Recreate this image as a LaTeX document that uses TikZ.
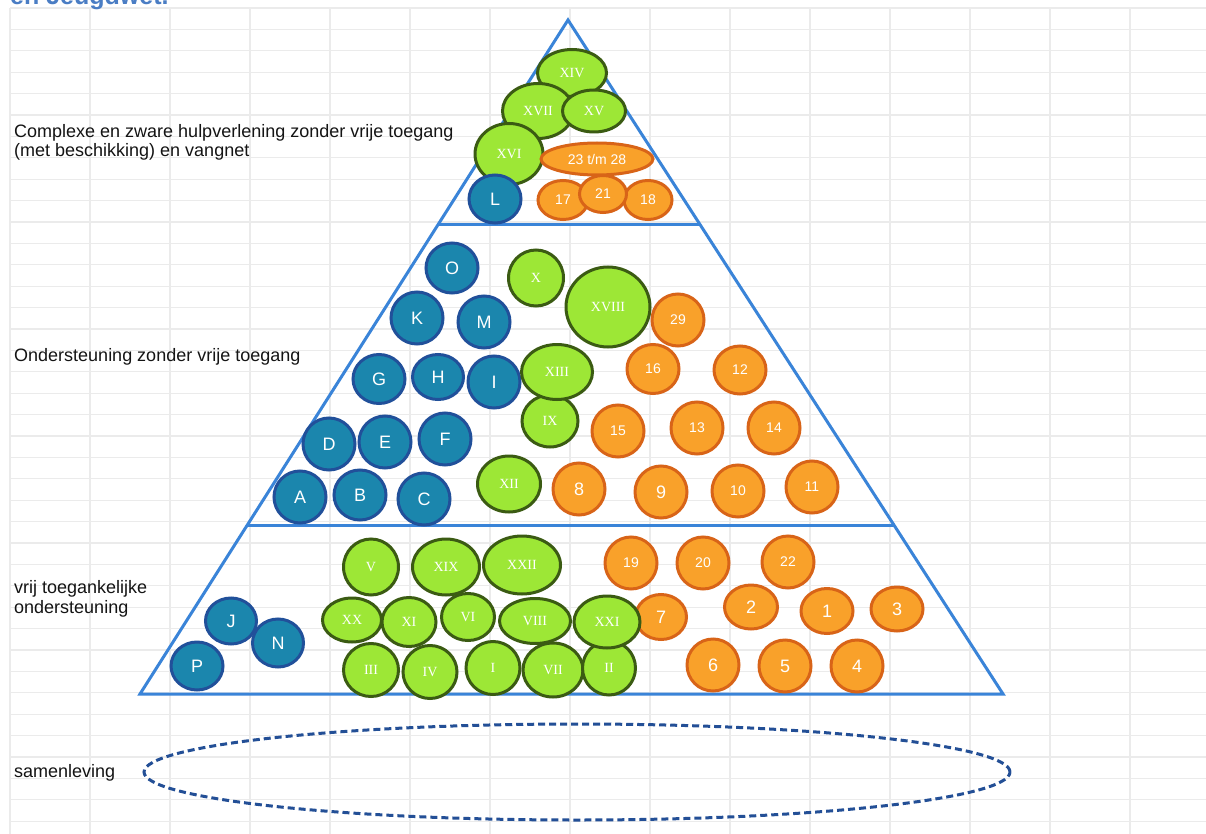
\documentclass[tikz,border=0pt]{standalone}
\usepackage{fontspec}
\setmainfont{Liberation Serif}
\setsansfont{Liberation Sans}
\usetikzlibrary{shapes.geometric}
\definecolor{gridc}{HTML}{EBEBEB}
\definecolor{pyr}{HTML}{3A84D8}
\definecolor{titleblue}{HTML}{4A7DC4}
\definecolor{bfill}{HTML}{1B86AD}
\definecolor{bline}{HTML}{21509A}
\definecolor{gfill}{HTML}{9DE736}
\definecolor{gline}{HTML}{3B5B13}
\definecolor{ofill}{HTML}{F9A12A}
\definecolor{oline}{HTML}{D86418}
\definecolor{dashc}{HTML}{234F96}
\definecolor{txt}{HTML}{141414}
\tikzset{
  gridline/.style={draw=gridc, line width=1.3pt},
  pyrline/.style={draw=pyr, line width=3pt, line join=miter},
  bub/.style={ellipse, inner sep=0pt, outer sep=0pt, line width=3pt, text=white},
  blu/.style={bub, fill=bfill, draw=bline, font=\fontsize{18}{18}\selectfont\sffamily},
  grn/.style={bub, fill=gfill, draw=gline, font=\fontsize{14}{14}\selectfont\rmfamily},
  org/.style={bub, fill=ofill, draw=oline, font=\fontsize{14}{14}\selectfont\sffamily},
  orgb/.style={org, font=\fontsize{18}{18}\selectfont\sffamily},
  sz/.style 2 args={minimum width=#1pt, minimum height=#2pt},
  lab/.style={anchor=base west, inner sep=0pt, text=txt, font=\fontsize{18}{18}\selectfont\sffamily}
}
\begin{document}
\begin{tikzpicture}[x=1pt,y=-1pt]
\useasboundingbox (0,0) rectangle (1206,834);
\clip (0,0) rectangle (1206,834);
\fill[white] (0,0) rectangle (1206,834);
% grid
\foreach \yy in {8,29.4,...,834} \draw[gridline] (10,\yy) -- (1206,\yy);
\foreach \xx in {10,90,...,1210} \draw[gridline] (\xx,8) -- (\xx,834);
% title (cut off at the top, as in the reference)
\node[anchor=base west, inner sep=0pt, text=titleblue, font=\fontsize{25}{25}\selectfont\sffamily\bfseries] (title) at (10,4.5) {en Jeugdwet.};
% pyramid
\coordinate (apex) at (568,20);
\coordinate (bl) at (140,694);
\coordinate (br) at (1003,694);
\coordinate (l1) at (437,225);
\coordinate (r1) at (700,225);
\coordinate (l2) at (246,525);
\coordinate (r2) at (894,525);
\draw[pyrline] (apex) -- (bl) -- (br) -- cycle;
\draw[pyrline] (l1) -- (r1);
\draw[pyrline] (l2) -- (r2);
% left labels
\node[lab] (t1a) at (14,137.5) {Complexe en zware hulpverlening zonder vrije toegang};
\node[lab] (t1b) at (14,156.5) {(met beschikking) en vangnet};
\node[lab] (t2) at (14,361) {Ondersteuning zonder vrije toegang};
\node[lab] (t3a) at (14,593) {vrij toegankelijke};
\node[lab] (t3b) at (14,613) {ondersteuning};
\node[lab] (t4) at (14,777) {samenleving};
% samenleving ellipse
\node[ellipse, draw=dashc, line width=3pt, dash pattern=on 7pt off 4pt, minimum width=866pt, minimum height=96pt, inner sep=0pt] (samen) at (577,772) {};
% top section
\node[grn, sz={69}{47}] (gXIV) at (572,73) {XIV};
\node[grn, sz={71}{55}] (gXVII) at (538,111) {XVII};
\node[grn, sz={63}{42}] (gXV) at (594,111) {XV};
\node[grn, sz={68}{61}] (gXVI) at (509,154) {XVI};
\node[blu, sz={52}{48}] (bL) at (495,199) {L};
\node[org, sz={112}{32}] (o2328) at (597,159) {23 t/m 28};
\node[org, sz={50}{39}] (o17) at (563,200) {17};
\node[org, sz={48}{39}] (o18) at (648,200) {18};
\node[org, sz={47}{37}] (o21) at (603,194) {21};
% middle section
\node[blu, sz={52}{50}] (bO) at (452,268) {O};
\node[blu, sz={52}{52}] (bK) at (417,318) {K};
\node[blu, sz={52}{52}] (bM) at (484,322) {M};
\node[blu, sz={52}{49}] (bG) at (379,379) {G};
\node[blu, sz={51}{45}] (bH) at (438,377) {H};
\node[blu, sz={52}{52}] (bI) at (494,382) {I};
\node[blu, sz={52}{52}] (bD) at (329,444) {D};
\node[blu, sz={52}{52}] (bE) at (385,442) {E};
\node[blu, sz={52}{52}] (bF) at (445,439) {F};
\node[blu, sz={52}{52}] (bA) at (300,497) {A};
\node[blu, sz={52}{50}] (bB) at (360,495) {B};
\node[blu, sz={52}{52}] (bC) at (424,499) {C};
\node[grn, sz={55}{56}] (gX) at (536,278) {X};
\node[grn, sz={84}{80}] (gXVIII) at (608,307) {XVIII};
\node[grn, sz={56}{52}] (gIX) at (550,421) {IX};
\node[grn, sz={71}{55}] (gXIII) at (557,372) {XIII};
\node[grn, sz={63}{56}] (gXII) at (509,484) {XII};
\node[org, sz={52}{52}] (o29) at (678,320) {29};
\node[org, sz={52}{49}] (o16) at (653,369) {16};
\node[org, sz={52}{48}] (o12) at (740,370) {12};
\node[org, sz={52}{52}] (o15) at (618,431) {15};
\node[org, sz={52}{52}] (o13) at (697,428) {13};
\node[org, sz={52}{52}] (o14) at (774,428) {14};
\node[orgb, sz={52}{52}] (o8) at (579,489) {8};
\node[orgb, sz={52}{52}] (o9) at (661,492) {9};
\node[org, sz={52}{52}] (o10) at (738,491) {10};
\node[org, sz={52}{52}] (o11) at (812,487) {11};
% bottom section
\node[blu, sz={51}{46}] (bJ) at (231,621) {J};
\node[blu, sz={51}{48}] (bN) at (278,643) {N};
\node[blu, sz={52}{48}] (bP) at (197,666) {P};
\node[grn, sz={55}{56}] (gV) at (371,567) {V};
\node[grn, sz={67}{56}] (gXIX) at (446,567) {XIX};
\node[grn, sz={77}{58}] (gXXII) at (522,565) {XXII};
\node[grn, sz={55}{53}] (gIII) at (371,670) {III};
\node[grn, sz={54}{53}] (gIV) at (430,672) {IV};
\node[grn, sz={54}{53}] (gI) at (493,668) {I};
\node[grn, sz={60}{54}] (gVII) at (553,670) {VII};
\node[grn, sz={53}{54}] (gII) at (609,668) {II};
\node[orgb, sz={51}{45}] (o7) at (661,617) {7};
\node[grn, sz={59}{44}] (gXX) at (352,620) {XX};
\node[grn, sz={54}{49}] (gXI) at (409,622) {XI};
\node[grn, sz={53}{47}] (gVI) at (468,617) {VI};
\node[grn, sz={71}{45}] (gVIII) at (535,621) {VIII};
\node[grn, sz={66}{52}] (gXXI) at (607,622) {XXI};
\node[org, sz={52}{52}] (o19) at (631,563) {19};
\node[org, sz={52}{52}] (o20) at (703,563) {20};
\node[org, sz={52}{52}] (o22) at (788,562) {22};
\node[orgb, sz={53}{44}] (o2) at (751,607) {2};
\node[orgb, sz={52}{45}] (o1) at (827,611) {1};
\node[orgb, sz={52}{44}] (o3) at (897,609) {3};
\node[orgb, sz={52}{52}] (o6) at (713,665) {6};
\node[orgb, sz={52}{52}] (o5) at (785,666) {5};
\node[orgb, sz={52}{52}] (o4) at (857,666) {4};
\end{tikzpicture}
\end{document}
